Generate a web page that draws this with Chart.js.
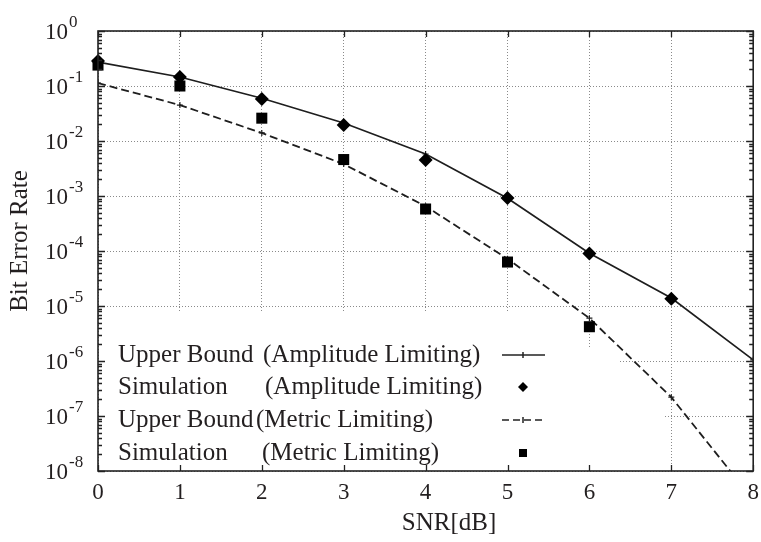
<!DOCTYPE html>
<html>
<head>
<meta charset="utf-8">
<script src="https://cdn.jsdelivr.net/npm/chart.js@4"></script>
<style>
  html, body { margin: 0; padding: 0; background: #fff; }
  #wrap { width: 761px; height: 542px; }
</style>
</head>
<body>
<div id="wrap"><canvas id="berChart"></canvas></div>
<script>
// SNR values (x axis)
const snr = [0, 1, 2, 3, 4, 5, 6, 7, 8];

// BER curves
const ampBound = [0.273, 0.146, 0.060, 0.0213, 0.0058, 9.1e-4, 9.1e-5, 1.4e-5, 1.05e-6];
const ampSim   = [0.285, 0.146, 0.058, 0.0195, 0.0045, 9.2e-4, 9.0e-5, 1.35e-5];
const metBound = [0.113, 0.045, 0.014, 0.0038, 6.5e-4, 7.2e-5, 6.0e-6, 2.2e-7, 3.0e-9];
const metSim   = [0.24, 0.10, 0.026, 0.0046, 5.8e-4, 6.3e-5, 4.2e-6];

// y tick values and their exponent labels
const yTickValues = [1, 1e-1, 1e-2, 1e-3, 1e-4, 1e-5, 1e-6, 1e-7, 1e-8];
const yTickExps = ['0', '-1', '-2', '-3', '-4', '-5', '-6', '-7', '-8'];

// legend text
const legendNames = ['Upper Bound', 'Simulation', 'Upper Bound', 'Simulation'];
const legendModes = ['(Amplitude Limiting)', '(Amplitude Limiting)', '(Metric Limiting)', '(Metric Limiting)'];

const SERIF = '"Liberation Serif", "Times New Roman", serif';
const INK = '#231f20';

function toPoints(values) {
    return values.map((v, i) => ({ x: snr[i], y: v }));
}

// draws y labels, frame, inner ticks, titles and the key
const paperDecor = {
    id: 'paperDecor',
    beforeDatasetsDraw(chart) {
        const ctx = chart.ctx;
        // opaque key area (covers the grid)
        ctx.save();
        ctx.fillStyle = '#fff';
        ctx.fillRect(99, 313, 487, 157);
        ctx.fillRect(586, 348, 32, 122);
        ctx.fillRect(618, 382, 45, 88);
        ctx.restore();
    },
    afterDraw(chart) {
        const ctx = chart.ctx;
        const area = chart.chartArea;
        const xs = chart.scales.x;
        const ys = chart.scales.y;

        ctx.save();
        ctx.strokeStyle = '#222';
        ctx.lineWidth = 1.3;

        // minor + major ticks on left/right
        for (let k = -8; k <= 0; k++) {
            for (let m = 1; m <= 9; m++) {
                const v = m * Math.pow(10, k);
                if (v > 1.0000001) continue;
                const y = Math.round(ys.getPixelForValue(v)) + 0.5;
                const len = m === 1 ? 7 : 4;
                ctx.beginPath();
                ctx.moveTo(area.left, y);
                ctx.lineTo(area.left + len, y);
                ctx.moveTo(area.right, y);
                ctx.lineTo(area.right - len, y);
                ctx.stroke();
            }
        }
        // ticks on top/bottom
        snr.forEach(s => {
            const x = Math.round(xs.getPixelForValue(s)) + 0.5;
            ctx.beginPath();
            ctx.moveTo(x, area.bottom);
            ctx.lineTo(x, area.bottom - 6);
            ctx.moveTo(x, area.top);
            ctx.lineTo(x, area.top + 6);
            ctx.stroke();
        });

        // frame
        ctx.lineWidth = 1.6;
        ctx.strokeRect(area.left, area.top, area.right - area.left, area.bottom - area.top);

        // y tick labels 10^k
        ctx.fillStyle = INK;
        ctx.textBaseline = 'middle';
        yTickValues.forEach((v, i) => {
            const y = ys.getPixelForValue(v);
            ctx.font = '23px ' + SERIF;
            ctx.textAlign = 'right';
            ctx.fillText('10', 68, y + 2);
            ctx.font = '17px ' + SERIF;
            ctx.textAlign = 'left';
            ctx.fillText(yTickExps[i], 69, y - 8);
        });

        // axis titles
        ctx.font = '25px ' + SERIF;
        ctx.textAlign = 'center';
        ctx.fillText('SNR[dB]', 449, 523);
        ctx.save();
        ctx.translate(20, 241);
        ctx.rotate(-Math.PI / 2);
        ctx.fillText('Bit Error Rate', 0, 0);
        ctx.restore();

        // key
        const rowY = [355, 387, 420, 453];
        const modeX = [263, 265, 256, 262];
        ctx.textAlign = 'left';
        legendNames.forEach((name, i) => {
            ctx.fillText(name, 118, rowY[i]);
            ctx.fillText(legendModes[i], modeX[i], rowY[i]);
        });
        // key samples
        ctx.strokeStyle = '#222';
        ctx.fillStyle = '#000';
        ctx.lineWidth = 1.5;
        [0, 2].forEach(i => {
            const y = rowY[i];
            ctx.setLineDash(i === 2 ? [7, 4] : []);
            ctx.beginPath();
            ctx.moveTo(502, y);
            ctx.lineTo(545, y);
            ctx.stroke();
            ctx.setLineDash([]);
            ctx.beginPath();
            ctx.moveTo(523, y - 3);
            ctx.lineTo(523, y + 3);
            ctx.stroke();
        });
        let y = rowY[1];
        ctx.beginPath();
        ctx.moveTo(518, y);
        ctx.lineTo(523, y - 5);
        ctx.lineTo(528, y);
        ctx.lineTo(523, y + 5);
        ctx.closePath();
        ctx.fill();
        y = rowY[3];
        ctx.fillRect(519, y - 4, 8, 8);

        ctx.restore();
    }
};

const ctx = document.getElementById('berChart').getContext('2d');

window.berChart = new Chart(ctx, {
    type: 'line',
    data: {
        datasets: [
            {
                label: 'Simulation (Amplitude Limiting)',
                data: toPoints(ampSim),
                showLine: false,
                pointStyle: 'rectRot',
                pointRadius: 7,
                pointBackgroundColor: '#000',
                pointBorderColor: '#000',
                pointBorderWidth: 0,
                clip: false
            },
            {
                label: 'Simulation (Metric Limiting)',
                data: toPoints(metSim),
                showLine: false,
                pointStyle: 'rect',
                pointRadius: 7.8,
                pointBackgroundColor: '#000',
                pointBorderColor: '#000',
                pointBorderWidth: 0,
                clip: false
            },
            {
                label: 'Upper Bound (Amplitude Limiting)',
                data: toPoints(ampBound),
                borderColor: '#1e1e1e',
                borderWidth: 1.7,
                pointStyle: 'cross',
                pointRadius: 3,
                pointBorderWidth: 1.2,
                pointBorderColor: '#1e1e1e',
                tension: 0,
                fill: false
            },
            {
                label: 'Upper Bound (Metric Limiting)',
                data: toPoints(metBound),
                borderColor: '#1e1e1e',
                borderWidth: 1.8,
                borderDash: [8, 4],
                pointStyle: 'cross',
                pointRadius: 3,
                pointBorderWidth: 1.2,
                pointBorderColor: '#1e1e1e',
                tension: 0,
                fill: false
            }
        ]
    },
    options: {
        responsive: true,
        maintainAspectRatio: false,
        animation: false,
        devicePixelRatio: 1,
        layout: { padding: { top: 31, right: 5, left: 0, bottom: 0 } },
        scales: {
            x: {
                type: 'linear',
                min: 0,
                max: 8,
                ticks: {
                    stepSize: 1,
                    color: INK,
                    font: { family: SERIF, size: 23 },
                    padding: 8,
                    maxRotation: 0
                },
                grid: { color: '#8a8a8a', lineWidth: 1, drawTicks: false },
                border: { display: false, dash: [1, 2] },
                afterFit(scale) {
                    scale.height = 71;
                    scale.paddingLeft = 0;
                    scale.paddingRight = 0;
                }
            },
            y: {
                type: 'logarithmic',
                min: 1e-8,
                max: 1,
                ticks: { display: false },
                grid: { color: '#8a8a8a', lineWidth: 1, drawTicks: false },
                border: { display: false, dash: [1, 2] },
                afterBuildTicks(scale) {
                    scale.ticks = yTickValues.map(v => ({ value: v }));
                },
                afterFit(scale) { scale.width = 98; }
            }
        },
        plugins: {
            legend: { display: false },
            tooltip: { enabled: false }
        }
    },
    plugins: [paperDecor]
});
</script>
</body>
</html>
